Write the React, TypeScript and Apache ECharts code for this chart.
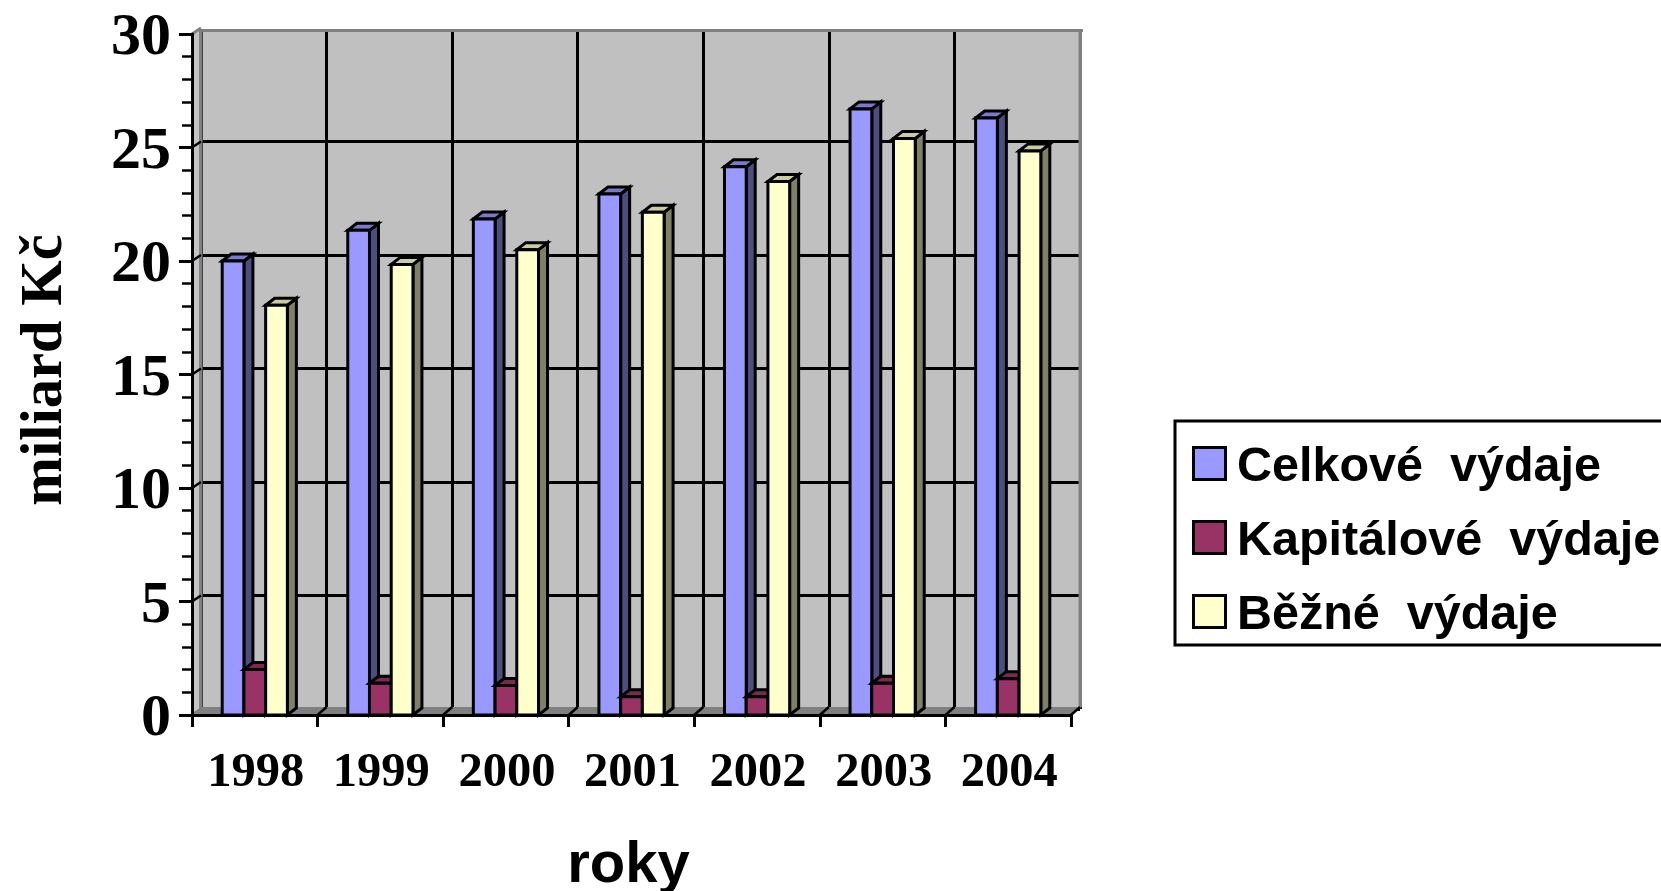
import React, { useEffect, useRef } from "react";
import * as echarts from "echarts";

const years = ["1998", "1999", "2000", "2001", "2002", "2003", "2004"];
const celkove = [20.0, 21.35, 21.85, 22.95, 24.15, 26.7, 26.3];
const kapitalove = [2.0, 1.4, 1.3, 0.8, 0.8, 1.4, 1.6];
const bezne = [18.05, 19.85, 20.5, 22.15, 23.5, 25.4, 24.85];
const yTicks = [0, 5, 10, 15, 20, 25, 30];

const G = { left: 192, top: 34, width: 879, height: 681 };
const DX = 9;
const DY = -7;
const WALL = { left: G.left + DX, top: 28, width: 879, height: 681 };

function shade(c: number[], f: number) {
  return `rgb(${c.map((v) => Math.round(v * f)).join(",")})`;
}

function barSeries(name: string, values: number[], rgb: number[], pos: number) {
  return {
    type: "custom",
    name,
    xAxisIndex: 0,
    yAxisIndex: 0,
    z: 3 + pos,
    clip: false,
    encode: { x: 0, y: 1 },
    itemStyle: { color: shade(rgb, 1), borderColor: "#000", borderWidth: 3 },
    data: values.map((v, i) => [years[i], v]),
    renderItem: (_p: any, api: any) => {
      const top = api.coord([api.value(0), api.value(1)]);
      const base = api.coord([api.value(0), 0]);
      const w = api.size([1, 0])[0] * 0.173;
      const x0 = top[0] + (pos - 1.5) * w;
      const x1 = x0 + w;
      const st = (fill: string) => ({ fill, stroke: "#000", lineWidth: 3, lineJoin: "miter" });
      return {
        type: "group",
        children: [
          {
            type: "polygon",
            shape: { points: [[x1, top[1]], [x1 + DX, top[1] + DY], [x1 + DX, base[1] + DY], [x1, base[1]]] },
            style: st(shade(rgb, 0.5)),
          },
          {
            type: "polygon",
            shape: { points: [[x0, top[1]], [x0 + DX, top[1] + DY], [x1 + DX, top[1] + DY], [x1, top[1]]] },
            style: st(shade(rgb, 0.8)),
          },
          {
            type: "rect",
            shape: { x: x0, y: top[1], width: w, height: base[1] - top[1] },
            style: st(shade(rgb, 1)),
          },
        ],
      };
    },
  };
}

export default function App() {
  const ref = useRef<HTMLDivElement>(null);
  useEffect(() => {
    document.body.style.margin = "0";
    document.body.style.overflow = "hidden";
    const chart = echarts.init(ref.current!, null, { renderer: "svg" });
    const gR = G.left + G.width;
    const gB = G.top + G.height;
    const bandW = G.width / years.length;
    const slants: any[] = [];
    yTicks.forEach((t) => {
      const y = gB - (t / 30) * G.height;
      const edge = t === 0 || t === 30;
      slants.push({
        type: "line",
        z: 1,
        shape: { x1: G.left, y1: y, x2: G.left + DX, y2: y + DY + 1 },
        style: { stroke: edge ? "#808080" : "#000", lineWidth: edge ? 3 : 2.5 },
      });
    });
    for (let i = 1; i <= years.length; i++) {
      const x = G.left + i * bandW;
      slants.push({
        type: "line",
        z: 1,
        shape: { x1: x, y1: gB, x2: x + DX, y2: gB + DY - 1 },
        style: { stroke: "#000", lineWidth: 2.5 },
      });
    }
    chart.setOption({
      animation: false,
      backgroundColor: "#fff",
      tooltip: { show: false },
      grid: [
        { left: G.left, top: G.top, width: G.width, height: G.height, show: false, outerBoundsMode: "none", containLabel: false },
        { ...WALL, show: true, backgroundColor: "#C0C0C0", borderWidth: 0, outerBoundsMode: "none", containLabel: false },
      ],
      legend: {
        show: true,
        orient: "vertical",
        left: 1175,
        top: 421,
        padding: [18, 300, 9, 17],
        itemWidth: 32,
        itemHeight: 32,
        itemGap: 25,
        borderColor: "#000",
        borderWidth: 3,
        backgroundColor: "#fff",
        icon: "rect",
        selectedMode: false,
        textStyle: {
          fontFamily: "Liberation Sans",
          fontWeight: "bold",
          fontSize: 48.5,
          color: "#000",
          padding: [0, 0, 0, 6.5],
        },
        data: [
          { name: "Celkové  výdaje", itemStyle: { color: "#9999FF", borderColor: "#000", borderWidth: 3 } },
          { name: "Kapitálové  výdaje", itemStyle: { color: "#993366", borderColor: "#000", borderWidth: 3 } },
          { name: "Běžné  výdaje", itemStyle: { color: "#FFFFCC", borderColor: "#000", borderWidth: 3 } },
        ],
      },
      xAxis: [
        {
          type: "category",
          gridIndex: 0,
          data: years,
          z: 6,
          name: "roky",
          nameLocation: "middle",
          nameGap: 122,
          nameTextStyle: { fontFamily: "Liberation Sans", fontWeight: "bold", fontSize: 58, lineHeight: 48, color: "#000", padding: [0, 6, 0, 0] },
          axisLine: { show: true, lineStyle: { color: "#000", width: 3 } },
          axisTick: { show: true, length: 12, lineStyle: { color: "#000", width: 3 } },
          axisLabel: {
            margin: 30,
            interval: 0,
            fontFamily: "Liberation Serif",
            fontWeight: "bold",
            fontSize: 48.5,
            color: "#000",
            padding: [0, 0, 0, 2],
          },
          splitLine: { show: false },
        },
        {
          type: "category",
          gridIndex: 1,
          data: years,
          axisLine: { show: false },
          axisTick: { show: false },
          axisLabel: { show: false },
          splitLine: { show: true, interval: 0, lineStyle: { color: "#000", width: 3 } },
        },
      ],
      yAxis: [
        {
          type: "value",
          gridIndex: 0,
          min: 0,
          max: 30,
          interval: 5,
          z: 6,
          name: "miliard Kč",
          nameLocation: "middle",
          nameGap: 113,
          nameTextStyle: { fontFamily: "Liberation Serif", fontWeight: "bold", fontSize: 58.5, color: "#000", padding: [0, 0, 8, 9] },
          axisLine: { show: true, lineStyle: { color: "#000", width: 3 } },
          axisTick: { show: true, length: 13, lineStyle: { color: "#000", width: 3 } },
          minorTick: { show: true, splitNumber: 5, length: 10, lineStyle: { color: "#000", width: 2.5 } },
          axisLabel: {
            margin: 21,
            fontFamily: "Liberation Serif",
            fontWeight: "bold",
            fontSize: 60,
            color: "#000",
            padding: [0, 0, 9, 0],
          },
          splitLine: { show: false },
        },
        {
          type: "value",
          gridIndex: 1,
          min: 0,
          max: 30,
          interval: 5,
          axisLine: { show: false },
          axisTick: { show: false },
          axisLabel: { show: false },
          splitLine: { show: true, lineStyle: { color: "#000", width: 3 } },
        },
      ],
      graphic: [
        {
          type: "rect",
          z: 1,
          shape: { x: G.left, y: 24, width: 900, height: 5 },
          style: { fill: "#fff" },
        },
        {
          type: "polygon",
          z: 1,
          shape: { points: [[G.left, G.top], [G.left + DX, G.top - 5], [G.left + DX, gB + DY], [G.left, gB]] },
          style: { fill: "#C4C4C4" },
        },
        {
          type: "rect",
          z: 1,
          shape: { x: G.left + 7, y: 29, width: 3.5, height: gB - 29 },
          style: { fill: "#808080" },
        },
        {
          type: "rect",
          z: 1,
          shape: { x: G.left + 7, y: 29, width: 880 + 4, height: 3 },
          style: { fill: "#808080" },
        },
        {
          type: "rect",
          z: 1,
          shape: { x: gR + 7.5, y: 29, width: 3.5, height: gB - 37 },
          style: { fill: "#808080" },
        },
        {
          type: "polygon",
          z: 1,
          shape: { points: [[G.left, gB], [G.left + DX, gB + DY - 1], [gR + 11, gB + DY - 1], [gR, gB]] },
          style: { fill: "#808080" },
        },
        ...slants,
      ],
      series: [
        barSeries("Celkové  výdaje", celkove, [153, 153, 255], 0),
        barSeries("Kapitálové  výdaje", kapitalove, [153, 51, 102], 1),
        barSeries("Běžné  výdaje", bezne, [255, 255, 204], 2),
      ],
    });
    return () => chart.dispose();
  }, []);
  return <div ref={ref} style={{ position: "absolute", left: 0, top: 0, width: 1661, height: 891 }} />;
}
